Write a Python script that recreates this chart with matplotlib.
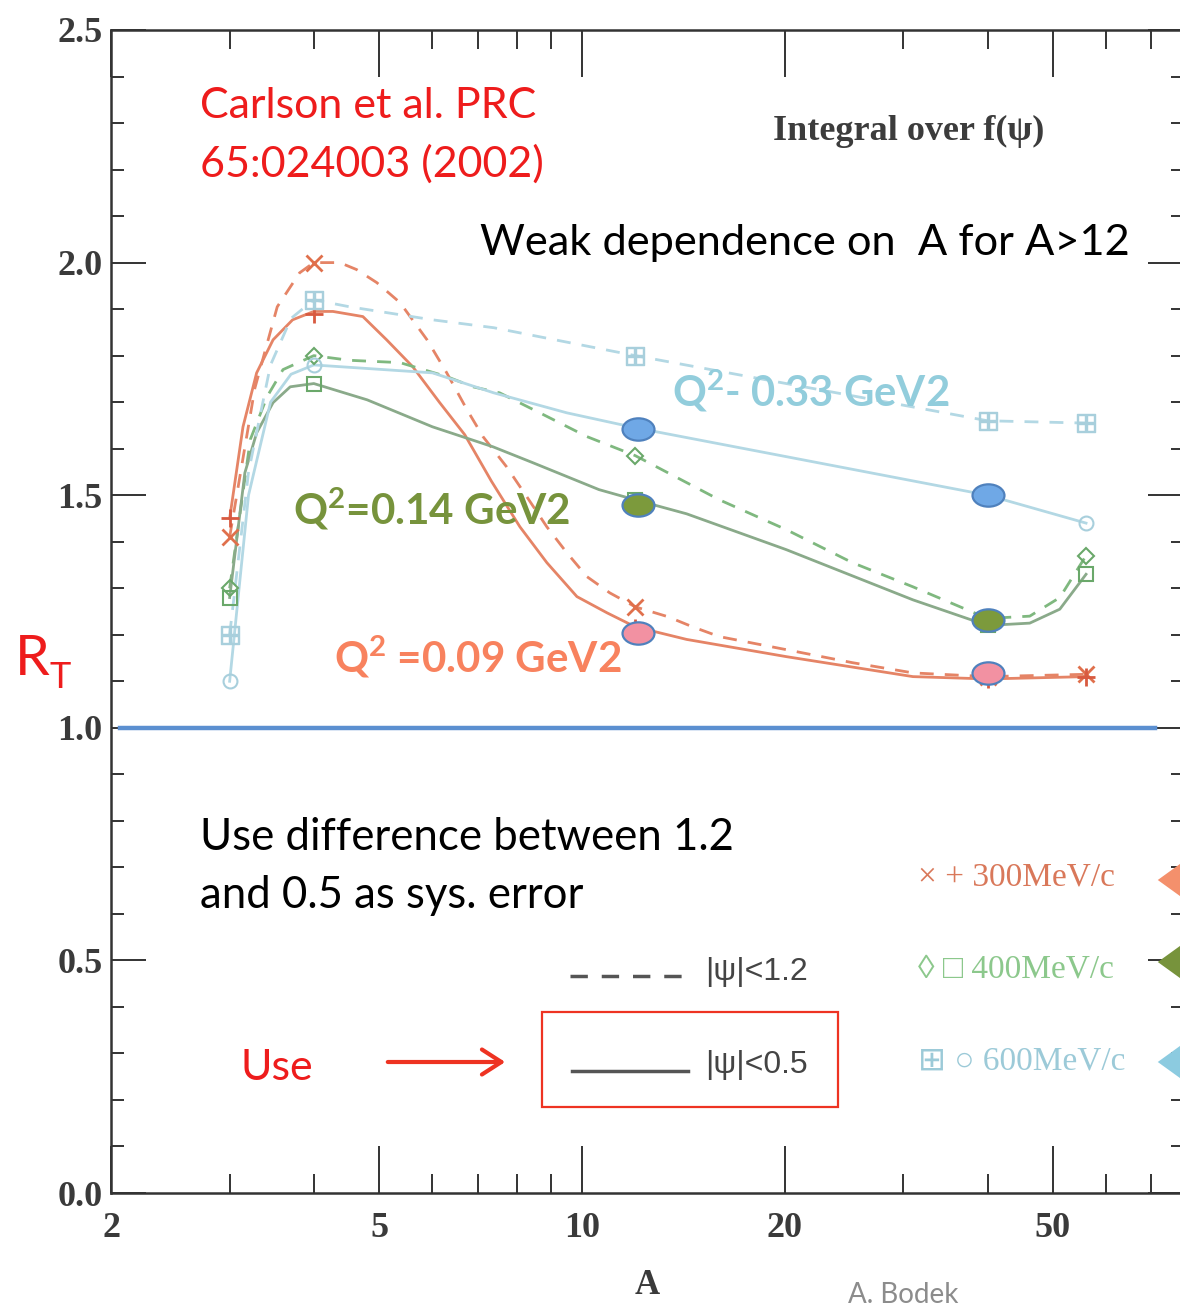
import numpy as np
import matplotlib.pyplot as plt
from matplotlib.path import Path
from matplotlib.transforms import Affine2D
from matplotlib.patches import Rectangle, FancyArrowPatch
from matplotlib.lines import Line2D
from matplotlib.ticker import FixedLocator, NullFormatter

# nuclei where the calculation was done (3He, 4He, 12C, 40Ca, 56Fe)
nuclei = [3, 4, 12, 40, 56]

# marker values, R_T per nucleus
r300_psi12 = [1.41, 2.00, 1.26, 1.11, 1.115]
r300_psi05 = [1.45, 1.89, 1.215, 1.105, 1.11]
r400_psi12 = [1.30, 1.80, 1.585, 1.23, 1.37]
r400_psi05 = [1.28, 1.74, 1.49, 1.22, 1.33]
r600_psi12 = [1.20, 1.92, 1.80, 1.66, 1.655]
r600_psi05 = [1.10, 1.78, 1.645, 1.50, 1.44]

# curves
c300_12_A = [3.0, 3.27, 3.53, 3.81, 4.0, 4.37, 4.63, 4.96, 5.37, 5.89, 6.30, 6.75, 7.13, 7.73,
             8.28, 8.87, 9.5, 10.17, 11.0, 12.0, 13.4, 14.6, 16.0, 20.1, 25.2, 31.0, 40.0, 56.0]
c300_12_R = [1.41, 1.73, 1.905, 1.978, 2.00, 2.00, 1.985, 1.957, 1.914, 1.834, 1.763, 1.684, 1.626, 1.561,
             1.497, 1.432, 1.376, 1.325, 1.29, 1.26, 1.239, 1.217, 1.196, 1.168, 1.14, 1.118, 1.11, 1.115]
c300_05_A = [3.0, 3.14, 3.29, 3.48, 3.72, 4.0, 4.27, 4.73, 5.13, 5.61, 6.15, 6.7, 7.34, 8.09,
             8.87, 9.83, 10.9, 12.0, 14.3, 20.1, 31.0, 40.0, 56.0]
c300_05_R = [1.45, 1.647, 1.763, 1.834, 1.877, 1.895, 1.895, 1.884, 1.834, 1.776, 1.699, 1.63, 1.53, 1.432,
             1.355, 1.282, 1.247, 1.217, 1.19, 1.153, 1.11, 1.105, 1.11]
c400_12_A = [3.0, 3.22, 3.41, 3.60, 4.0, 4.52, 5.37, 6.30, 6.89, 7.55, 8.66, 10.17, 12.0, 16.0,
             20.1, 25.2, 31.0, 40.0, 46.2, 51.2, 56.0]
c400_12_R = [1.30, 1.62, 1.712, 1.77, 1.80, 1.79, 1.785, 1.755, 1.733, 1.72, 1.677, 1.626, 1.585, 1.49,
             1.426, 1.355, 1.303, 1.235, 1.24, 1.28, 1.37]
c400_05_A = [3.0, 3.16, 3.29, 3.48, 3.69, 4.0, 4.8, 6.0, 7.38, 8.45, 10.6, 12.0, 14.3, 20.1,
             31.0, 40.0, 46.2, 51.2, 56.0]
c400_05_R = [1.28, 1.548, 1.634, 1.699, 1.733, 1.74, 1.705, 1.647, 1.604, 1.57, 1.512, 1.49, 1.46, 1.383,
             1.275, 1.22, 1.225, 1.255, 1.33]
c600_12_A = [3.0, 3.2, 3.45, 3.7, 4.0, 4.52, 6.0, 7.4, 12.0, 40.0, 56.0]
c600_12_R = [1.20, 1.55, 1.78, 1.88, 1.92, 1.905, 1.877, 1.86, 1.80, 1.66, 1.655]
c600_05_A = [3.0, 3.2, 3.45, 3.7, 4.0, 6.0, 7.4, 9.5, 12.0, 40.0, 56.0]
c600_05_R = [1.10, 1.50, 1.70, 1.76, 1.78, 1.763, 1.72, 1.677, 1.645, 1.50, 1.44]

# highlighted points added on the slide
hl_A = [12.1, 40.0]
hl_blue = [1.643, 1.50]
hl_green = [1.48, 1.232]
hl_pink = [1.204, 1.118]

x_major = [2, 5, 10, 20, 50]
x_minor = [3, 4, 6, 7, 8, 9, 30, 40, 60, 70]
y_major = [0.0, 0.5, 1.0, 1.5, 2.0, 2.5]

W, H = 1180, 1307

plt.rcParams['mathtext.fontset'] = 'custom'
plt.rcParams['mathtext.rm'] = 'Lato'
plt.rcParams['mathtext.bf'] = 'Lato:bold'


def px(x, y):
    return x / W, 1 - y / H


fig = plt.figure(figsize=(W / 100, H / 100), dpi=100)
ax = fig.add_axes([111 / W, 114 / H, (1183 - 111) / W, 1163 / H])
ax.set_xscale('log')
ax.set_xlim(2, 78)
ax.set_ylim(0, 2.5)

red_c, green_c, blue_c = '#e58466', '#7fb87f', '#b3d8e4'
dash = (0, (5, 4))

ax.plot(c300_12_A, c300_12_R, color=red_c, lw=2, ls=dash)
ax.plot(c300_05_A, c300_05_R, color=red_c, lw=2)
ax.plot(c400_12_A, c400_12_R, color=green_c, lw=2, ls=dash)
ax.plot(c400_05_A, c400_05_R, color='#8aaa8a', lw=2)
ax.plot(c600_12_A, c600_12_R, color=blue_c, lw=2, ls=dash)
ax.plot(c600_05_A, c600_05_R, color=blue_c, lw=2)

ax.plot(nuclei, r300_psi12, ls='none', marker='x', ms=11, mew=2, color='#e0704c')
ax.plot(nuclei, r300_psi05, ls='none', marker='+', ms=13, mew=2, color='#d85a40')
ax.plot(nuclei, r400_psi12, ls='none', marker='D', ms=8, mew=1.5, mfc='none', mec='#6aa86a')
ax.plot(nuclei, r400_psi05, ls='none', marker='s', ms=10, mew=1.5, mfc='none', mec='#6aa86a')
ax.plot(nuclei, r600_psi12, ls='none', marker=r'$\boxplus$', ms=13, color='#a8cfdc')
ax.plot(nuclei, r600_psi05, ls='none', marker='o', ms=10, mew=1.5, mfc='none', mec='#a8cfdc')

ax.axhline(1.0, xmin=0.0084, xmax=0.974, color='#5b8fd0', lw=3.2, zorder=4)

ell = Path.unit_circle().transformed(Affine2D().scale(1, 0.7))
for vals, fc in [(hl_blue, '#6fa8e6'), (hl_green, '#7c9a3c'), (hl_pink, '#f291a2')]:
    ax.plot(hl_A, vals, ls='none', marker=ell, ms=23, mfc=fc, mec='#4f81bd', mew=1.6, zorder=5)

# axes styling
for s in ax.spines.values():
    s.set_linewidth(1.8)
    s.set_color('#333333')
ax.xaxis.set_major_locator(FixedLocator(x_major))
ax.xaxis.set_minor_locator(FixedLocator(x_minor))
ax.xaxis.set_minor_formatter(NullFormatter())
ax.yaxis.set_major_locator(FixedLocator(y_major))
ax.yaxis.set_minor_locator(FixedLocator(np.arange(0.1, 2.5, 0.1)))
tick_font = dict(fontfamily='Liberation Serif', fontweight='bold', fontsize=26, color='#3a3a3a')
ax.set_xticklabels([str(v) for v in x_major], **tick_font)
ax.set_yticklabels([f'{v:.1f}' for v in y_major], **tick_font)
ax.tick_params(which='both', direction='in', top=True, right=True, color='#333333', width=1.4)
ax.tick_params(axis='x', which='major', length=34, pad=14)
ax.tick_params(axis='x', which='minor', length=14)
ax.tick_params(axis='y', which='major', length=25, pad=6)
ax.tick_params(axis='y', which='minor', length=9)
ax.set_xlabel('A', fontfamily='Liberation Serif', fontweight='bold', fontsize=25, color='#3a3a3a', labelpad=17)

# slide annotations
sans = 'Lato'
red = '#ee1c1c'
fig.text(*px(200, 118), 'Carlson et al. PRC', color=red, fontsize=31, family=sans, va='baseline')
fig.text(*px(200, 177), '65:024003 (2002)', color=red, fontsize=31, family=sans, va='baseline')
fig.text(*px(480, 255), 'Weak dependence on  A for A>12', color='black', fontsize=31.2, family=sans, va='baseline')
fig.text(*px(773, 140), 'Integral over f(ψ)', color='#3c3c3c', fontsize=26, family='Liberation Serif',
         fontweight='bold', va='baseline')
fig.text(*px(672, 407), r'Q$^{\mathbf{2}}$- 0.33 GeV2', color='#92cddc', fontsize=30.2, family=sans,
         fontweight='bold', va='baseline')
fig.text(*px(293, 525), r'Q$^{\mathbf{2}}$=0.14 GeV2', color='#77933c', fontsize=30.3, family=sans,
         fontweight='bold', va='baseline')
fig.text(*px(334, 673), r'Q$^{\mathbf{2}}$ =0.09 GeV2', color='#f8825e', fontsize=30.3, family=sans,
         fontweight='bold', va='baseline')
fig.text(*px(15, 675), 'R', color=red, fontsize=40, family=sans, va='baseline')
fig.text(*px(50, 688), 'T', color=red, fontsize=26, family=sans, va='baseline')
fig.text(*px(200, 850), 'Use difference between 1.2', color='black', fontsize=31.5, family=sans, va='baseline')
fig.text(*px(200, 908), 'and 0.5 as sys. error', color='black', fontsize=31.5, family=sans, va='baseline')
fig.text(*px(240, 1080), 'Use', color=red, fontsize=31, family=sans, va='baseline')
fig.text(*px(848, 1303), 'A. Bodek', color='#8c8c8c', fontsize=20, family=sans, va='baseline')

# |psi| legend
fig.add_artist(Line2D([570 / W, 690 / W], [1 - 976 / H] * 2, color='#555555', lw=2.5, ls=(0, (5, 4))))
fig.add_artist(Line2D([572 / W, 688 / W], [1 - 1071 / H] * 2, color='#555555', lw=2.5))
fig.text(*px(705, 980), '|ψ|<1.2', color='#444444', fontsize=23, family='Liberation Sans', va='baseline')
fig.text(*px(705, 1073), '|ψ|<0.5', color='#444444', fontsize=23, family='Liberation Sans', va='baseline')
x0, y0 = px(542, 1107)
fig.add_artist(Rectangle((x0, y0), (838 - 542) / W, (1107 - 1012) / H, fill=False, ec='#ee3322', lw=1.6))
fig.add_artist(FancyArrowPatch(px(385, 1062), px(508, 1062), arrowstyle='->,head_length=0.7,head_width=0.45',
                               mutation_scale=20, color='#ee3322', lw=3))

# momentum legend
serif_list = ['Liberation Serif', 'DejaVu Sans']
fig.text(*px(918, 885), '× + 300MeV/c', color='#d9785a', fontsize=24, family=serif_list, va='baseline')
fig.text(*px(918, 977), '◊ □ 400MeV/c', color='#8cc88c', fontsize=24, family=serif_list, va='baseline')
fig.text(*px(918, 1070), '⊞ ○ 600MeV/c', color='#9ccad8', fontsize=24, family=serif_list, va='baseline')
for yy, col in [(880, '#f4906c'), (962, '#77933c'), (1062, '#8ccbe0')]:
    fig.add_artist(FancyArrowPatch(px(1230, yy), px(1155, yy),
                                   arrowstyle='simple,head_length=0.9,head_width=1.3,tail_width=0.5',
                                   mutation_scale=22, color=col, lw=0))

fig.savefig('out.png', dpi=100)
